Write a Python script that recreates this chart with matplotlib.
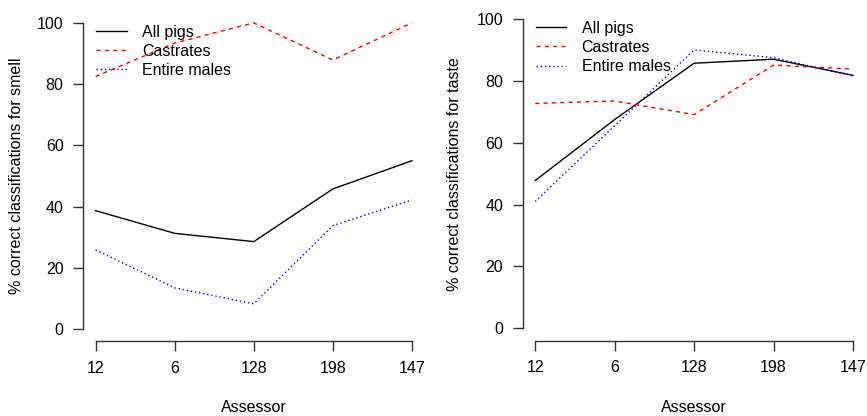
import matplotlib.pyplot as plt
import numpy as np

plt.rcParams['font.family'] = ['Liberation Sans', 'DejaVu Sans']

assessors = ['12', '6', '128', '198', '147']
series_labels = ['All pigs', 'Castrates', 'Entire males']

smell_all = [38.7, 31.3, 28.6, 45.8, 55.0]
smell_castrates = [82.5, 93.4, 100.0, 87.9, 100.0]
smell_entire = [25.9, 13.5, 8.3, 33.8, 42.2]

taste_all = [47.8, 67.5, 85.7, 87.0, 81.8]
taste_castrates = [72.7, 73.5, 69.1, 85.1, 83.8]
taste_entire = [41.0, 65.5, 90.0, 87.5, 81.6]

fs = 11.5
fig = plt.figure(figsize=(8.67, 4.16), dpi=100)
ax1 = fig.add_axes([0.0957, 0.1791, 0.3940, 0.7954])
ax2 = fig.add_axes([0.6027, 0.1810, 0.3958, 0.8031])

styles = [dict(color='black', linestyle='-'),
          dict(color='#ff0000', linestyle=(0, (3, 3))),
          dict(color='#0000ff', linestyle=(0, (1, 2)))]

x = np.arange(len(assessors))

def draw(ax, data, ylab, ylab_x):
    for vals, st, lab in zip(data, styles, series_labels):
        ax.plot(x, vals, lw=1.0, label=lab, **st)
    ax.set_xlim(-0.16, len(assessors) - 1 + 0.16)
    ax.set_ylim(-4, 104)
    for s in ['top', 'right']:
        ax.spines[s].set_visible(False)
    ax.spines['left'].set_bounds(0, 100)
    ax.spines['bottom'].set_bounds(0, len(assessors) - 1)
    for s in ['left', 'bottom']:
        ax.spines[s].set_color('#333333')
        ax.spines[s].set_linewidth(1.0)
    ax.set_xticks(x)
    ax.set_xticklabels(assessors)
    ax.set_yticks([0, 20, 40, 60, 80, 100])
    ax.tick_params(length=7, width=1.0, color='#333333', pad=7,
                   labelsize=fs, labelcolor='black')
    ax.legend(loc='upper left', bbox_to_anchor=(0.01, 99.4),
              bbox_transform=ax.transData, frameon=False, fontsize=fs,
              borderpad=0, borderaxespad=0, handlelength=1.9,
              handletextpad=0.95, labelspacing=0.26)
    pos = ax.get_position()
    fig.text(ylab_x / 867, pos.y0 + pos.height / 2,
             ylab, rotation=90, ha='center', va='center', fontsize=fs)
    fig.text(pos.x0 + pos.width / 2, 0.0096, 'Assessor',
             ha='center', va='baseline', fontsize=fs)

draw(ax1, [smell_all, smell_castrates, smell_entire],
     '% correct classifications for smell', 16.7)
draw(ax2, [taste_all, taste_castrates, taste_entire],
     '% correct classifications for taste', 454.7)

fig.savefig('out.png', dpi=100)
